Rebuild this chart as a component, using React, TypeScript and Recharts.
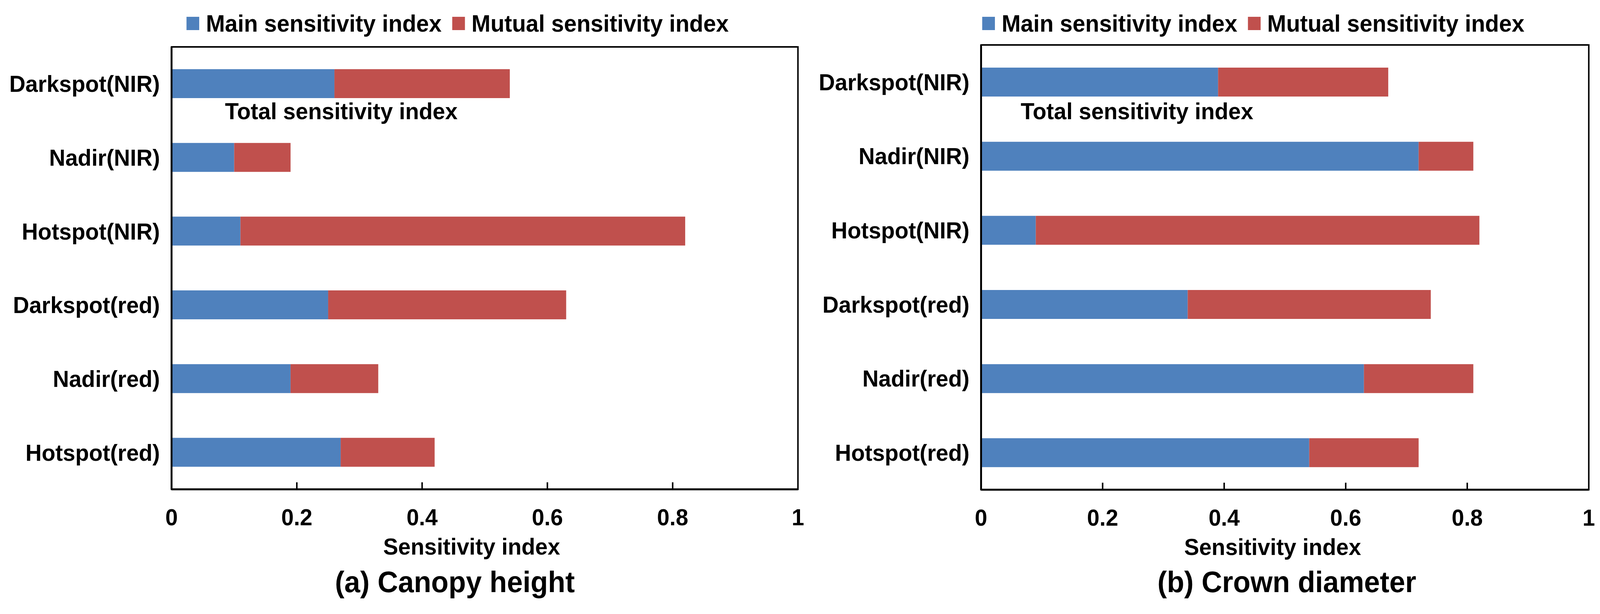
import React from 'react';
import { BarChart, Bar, XAxis, YAxis, Legend, ReferenceArea } from 'recharts';

// categories, top to bottom
const categories = [
  'Darkspot(NIR)',
  'Nadir(NIR)',
  'Hotspot(NIR)',
  'Darkspot(red)',
  'Nadir(red)',
  'Hotspot(red)',
];

// (a) Canopy height
const canopyMain = [0.26, 0.1, 0.11, 0.25, 0.19, 0.27];
const canopyMutual = [0.28, 0.09, 0.71, 0.38, 0.14, 0.15];

// (b) Crown diameter
const crownMain = [0.39, 0.72, 0.09, 0.34, 0.63, 0.54];
const crownMutual = [0.28, 0.09, 0.73, 0.4, 0.18, 0.18];

const xTicks = [0, 0.2, 0.4, 0.6, 0.8, 1];
const xTickLabels = ['0', '0.2', '0.4', '0.6', '0.8', '1'];

const FONT = '"Liberation Sans", Arial, sans-serif';
const BLUE = '#4F81BD';
const RED = '#C0504D';

// the figure is laid out at 4281 px wide; squeeze it if the window is narrower
const FIG_W = 4281;
const FIG_H = 1571;

const rows = (main: number[], mutual: number[]) =>
  categories.map((name, i) => ({ name, main: main[i], mutual: mutual[i] }));

const XTick = (props: any) => {
  const { x, y, payload, index } = props;
  const v = payload.value;
  return (
    <g>
      {v > 0 && v < 1 && (
        <line x1={x} x2={x} y1={y} y2={y - 18} stroke="#000" strokeWidth={4} />
      )}
      <text
        x={x}
        y={y + 71}
        textAnchor="middle"
        dominantBaseline="central"
        fontFamily={FONT}
        fontWeight="bold"
        fontSize={60}
        fill="#000"
      >
        {xTickLabels[index] ?? String(v)}
      </text>
    </g>
  );
};

const YTick = (props: any) => {
  const { x, y, payload } = props;
  return (
    <text
      x={x}
      y={y}
      textAnchor="end"
      dominantBaseline="central"
      fontFamily={FONT}
      fontWeight="bold"
      fontSize={60}
      fill="#000"
    >
      {payload.value}
    </text>
  );
};

const LegendBox = (props: any) => {
  const { payload } = props;
  return (
    <div style={{ display: 'flex', alignItems: 'center', height: 36, whiteSpace: 'nowrap' }}>
      {(payload || []).map((p: any, i: number) => (
        <div key={i} style={{ display: 'flex', alignItems: 'center', marginRight: 28 }}>
          <div style={{ width: 34, height: 34, background: p.color }} />
          <span
            style={{
              marginLeft: 18,
              fontFamily: FONT,
              fontWeight: 'bold',
              fontSize: 61,
              lineHeight: '36px',
              color: '#000',
            }}
          >
            {p.value}
          </span>
        </div>
      ))}
    </div>
  );
};

interface PanelProps {
  left: number;
  width: number;
  main: number[];
  mutual: number[];
  margin: { top: number; right: number; bottom: number; left: number };
  yWidth: number;
  legendLeft: number;
  axisTitleShift: number;
}

function Panel({ left, width, main, mutual, margin, yWidth, legendLeft, axisTitleShift }: PanelProps) {
  const data = rows(main, mutual);
  return (
    <div style={{ position: 'absolute', left, top: 0 }}>
      <BarChart width={width} height={FIG_H} data={data} layout="vertical" margin={margin} barSize={74}>
        <XAxis
          type="number"
          domain={[0, 1]}
          ticks={xTicks}
          interval={0}
          tick={<XTick />}
          tickLine={false}
          tickSize={0}
          tickMargin={0}
          axisLine={{ stroke: '#000', strokeWidth: 5 }}
          height={150}
          label={{
            content: (p: any) => {
              const vb = p.viewBox || {};
              return (
                <text
                  x={vb.x + vb.width / 2 + axisTitleShift}
                  y={vb.y + 146}
                  textAnchor="middle"
                  dominantBaseline="central"
                  fontFamily={FONT}
                  fontWeight="bold"
                  fontSize={60}
                  fill="#000"
                >
                  Sensitivity index
                </text>
              );
            },
          }}
        />
        <YAxis
          type="category"
          dataKey="name"
          width={yWidth}
          tick={<YTick />}
          tickLine={false}
          tickSize={0}
          tickMargin={31}
          axisLine={{ stroke: '#000', strokeWidth: 5 }}
        />
        <ReferenceArea x1={0} x2={1} fill="none" stroke="#000" strokeWidth={4} ifOverflow="visible" />
        <Legend
          layout="horizontal"
          verticalAlign="middle"
          align="center"
          content={<LegendBox />}
          wrapperStyle={{ top: 42, left: legendLeft, width: 1600, height: 36 }}
        />
        <Bar dataKey="main" name="Main sensitivity index" stackId="s" fill={BLUE} isAnimationActive={false} />
        <Bar dataKey="mutual" name="Mutual sensitivity index" stackId="s" fill={RED} isAnimationActive={false} />
      </BarChart>
    </div>
  );
}

const textStyle: React.CSSProperties = {
  position: 'absolute',
  fontFamily: FONT,
  fontWeight: 'bold',
  color: '#000',
  whiteSpace: 'nowrap',
};

export default function App() {
  const vw = typeof window !== 'undefined' ? window.innerWidth : FIG_W;
  const sx = Math.min(1, vw / FIG_W);
  return (
    <div
      style={{
        position: 'absolute',
        left: 0,
        top: 0,
        width: FIG_W,
        height: FIG_H,
        background: '#fff',
        overflow: 'hidden',
        fontFamily: FONT,
        transform: `scaleX(${sx})`,
        transformOrigin: '0 0',
      }}
    >
      <Panel
        left={0}
        width={2300}
        main={canopyMain}
        mutual={canopyMutual}
        margin={{ top: 120, right: 165, bottom: 169, left: 20 }}
        yWidth={439}
        legendLeft={499}
        axisTitleShift={-35}
      />
      <Panel
        left={2160}
        width={2121}
        main={crownMain}
        mutual={crownMutual}
        margin={{ top: 115, right: 30, bottom: 168, left: 40 }}
        yWidth={425}
        legendLeft={468}
        axisTitleShift={-33}
      />
      <div style={{ ...textStyle, left: 602, top: 255, fontSize: 60, lineHeight: '60px' }}>
        Total sensitivity index
      </div>
      <div style={{ ...textStyle, left: 2731, top: 255, fontSize: 60, lineHeight: '60px' }}>
        Total sensitivity index
      </div>
      <div
        style={{
          ...textStyle,
          left: 1217 - 600,
          width: 1200,
          textAlign: 'center',
          top: 1451,
          fontSize: 76,
          lineHeight: '76px',
        }}
      >
        (a) Canopy height
      </div>
      <div
        style={{
          ...textStyle,
          left: 3443 - 600,
          width: 1200,
          textAlign: 'center',
          top: 1451,
          fontSize: 76,
          lineHeight: '76px',
        }}
      >
        (b) Crown diameter
      </div>
    </div>
  );
}
